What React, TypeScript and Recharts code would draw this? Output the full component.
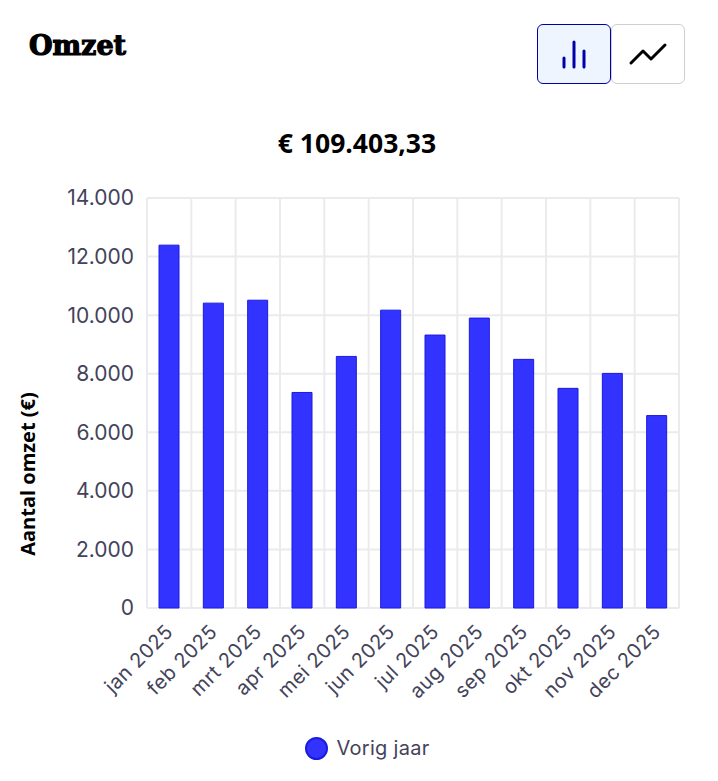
import { BarChart, Bar, XAxis, YAxis, CartesianGrid, Legend } from 'recharts';

const months = ['jan 2025', 'feb 2025', 'mrt 2025', 'apr 2025', 'mei 2025', 'jun 2025', 'jul 2025', 'aug 2025', 'sep 2025', 'okt 2025', 'nov 2025', 'dec 2025'];
const omzet = [12390, 10410, 10510, 7360, 8590, 10170, 9320, 9900, 8490, 7500, 8010, 6570];
const yTicks = [0, 2000, 4000, 6000, 8000, 10000, 12000, 14000];
const seriesName = 'Vorig jaar';
const total = '€ 109.403,33';

const data = months.map((month, i) => ({ month, omzet: omzet[i] }));

const labelFont = 'Inter, sans-serif';
const labelColor = '#43435a';
const barFill = '#3333ff';
const barStroke = '#1a1ae0';

const formatTick = (v: number) => v.toLocaleString('de-DE');

const boundaries = ({ offset }: any) =>
  months.map((_, i) => offset.left + (i * offset.width) / months.length).concat(offset.left + offset.width);

const renderLegend = ({ payload }: any) => (
  <div style={{ display: 'flex', justifyContent: 'center', alignItems: 'center', gap: 8 }}>
    {(payload ?? []).map((item: any) => (
      <span key={item.value} style={{ display: 'flex', alignItems: 'center', gap: 8, color: labelColor, letterSpacing: 0.3 }}>
        <span style={{ width: 23, height: 23, boxSizing: 'border-box', borderRadius: '50%', background: barFill, border: `2px solid ${barStroke}` }} />
        {item.value}
      </span>
    ))}
  </div>
);

export default function App() {
  return (
    <div style={{ position: 'absolute', left: 0, top: 0, width: 718, height: 781, background: '#fff' }}>
      <div style={{ position: 'absolute', left: 29, top: 29, fontFamily: '"DejaVu Serif", serif', fontWeight: 900, fontSize: 27, lineHeight: '34px', color: '#000', WebkitTextStroke: '1.2px #000' }}>
        Omzet
      </div>
      <div style={{ position: 'absolute', left: 537, top: 24, width: 74, height: 60, boxSizing: 'border-box', border: '1px solid #0000aa', borderRadius: 6, background: '#eef5ff' }}>
        <svg width="72" height="58" viewBox="0 0 72 58">
          <g stroke="#0000aa" strokeWidth="3" strokeLinecap="round">
            <line x1="26" y1="33" x2="26" y2="42" />
            <line x1="36" y1="17" x2="36" y2="42" />
            <line x1="46" y1="26" x2="46" y2="42" />
          </g>
        </svg>
      </div>
      <div style={{ position: 'absolute', left: 611, top: 24, width: 74, height: 60, boxSizing: 'border-box', border: '1px solid #cfcfcf', borderRadius: 6, background: '#fff' }}>
        <svg width="72" height="58" viewBox="0 0 72 58">
          <polyline points="19,38 31,26 39,34 53,20" fill="none" stroke="#000" strokeWidth="3" strokeLinecap="round" strokeLinejoin="round" />
        </svg>
      </div>
      <div style={{ position: 'absolute', left: 147, width: 420, top: 126, textAlign: 'center', fontFamily: '"Open Sans", sans-serif', fontWeight: 700, fontSize: 26.5, lineHeight: '34px', color: '#000' }}>
        {total}
      </div>
      <BarChart width={718} height={781} data={data} margin={{ top: 198, right: 39, bottom: 0, left: 0 }} barSize={20}>
        <CartesianGrid stroke="#ebebee" strokeWidth={2} verticalCoordinatesGenerator={boundaries} />
        <XAxis
          dataKey="month"
          interval={0}
          angle={-45}
          textAnchor="end"
          height={149}
          axisLine={false}
          tickLine={false}
          tickMargin={6}
          tick={{ fontFamily: labelFont, fontSize: 20, letterSpacing: 0.5, fill: labelColor, dx: -5, dy: 3 }}
        />
        <YAxis
          width={147}
          domain={[0, 14000]}
          ticks={yTicks}
          tickFormatter={formatTick}
          axisLine={false}
          tickLine={false}
          tickMargin={7}
          tick={{ fontFamily: labelFont, fontSize: 21, fill: labelColor }}
          label={{
            value: 'Aantal omzet (€)',
            angle: -90,
            position: 'insideLeft',
            dx: 23,
            dy: 71,
            style: { fontFamily: '"Open Sans", sans-serif', fontWeight: 700, fontSize: 20, fill: '#000', textAnchor: 'middle' },
          }}
        />
        <Legend
          verticalAlign="bottom"
          content={renderLegend}
          wrapperStyle={{ bottom: 21, left: 28, fontFamily: labelFont, fontSize: 20 }}
        />
        <Bar dataKey="omzet" name={seriesName} fill={barFill} stroke={barStroke} strokeWidth={1} isAnimationActive={false} />
      </BarChart>
    </div>
  );
}
